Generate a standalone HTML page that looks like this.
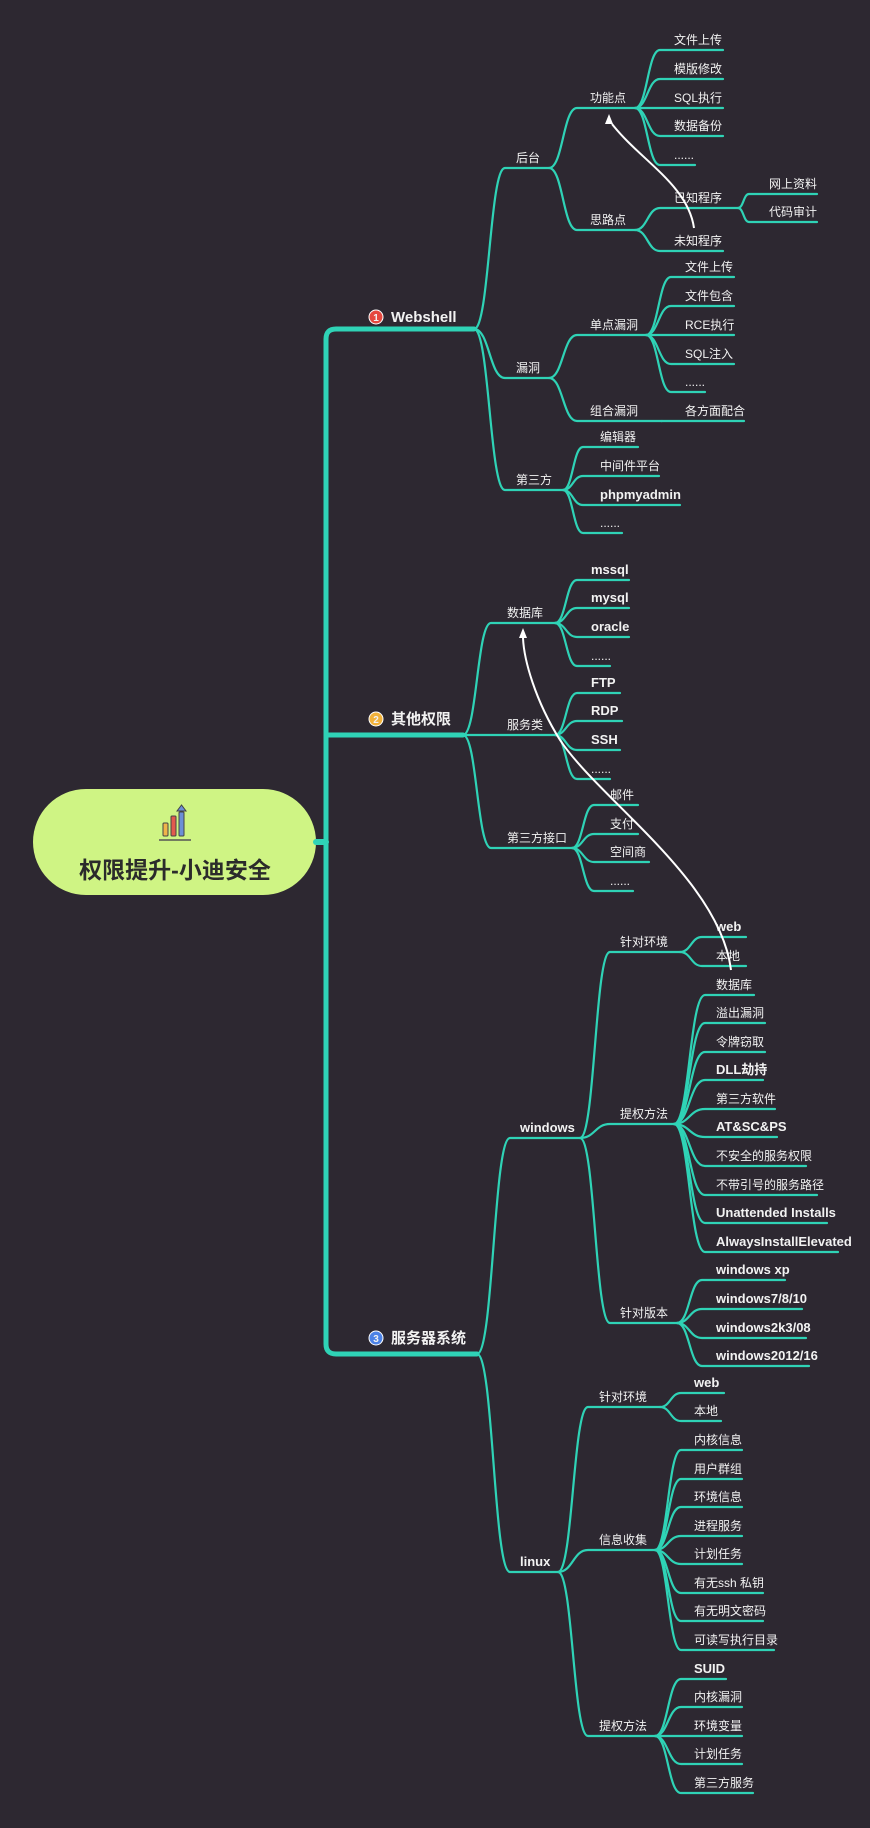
<!DOCTYPE html>
<html><head><meta charset="utf-8">
<style>
html,body{margin:0;padding:0;background:#2d2831;}
svg{display:block}
text{font-family:"Liberation Sans","Noto Sans CJK SC",sans-serif;fill:#f2f2f2;}
</style></head>
<body>
<svg id="map" width="870" height="1828" viewBox="0 0 870 1828" xmlns="http://www.w3.org/2000/svg">
<rect width="870" height="1828" fill="#2d2831"/>
<!-- root -->
<g>
<rect x="33" y="789" width="283" height="106" rx="53" fill="#cff484"/>
<g>
<rect x="163" y="823" width="5" height="13" rx="1" fill="#f0b34a" stroke="#444" stroke-width="1"/>
<rect x="171" y="816" width="5" height="20" rx="1" fill="#e25a4e" stroke="#444" stroke-width="1"/>
<rect x="179" y="812" width="5" height="24" rx="1" fill="#6c8fd6" stroke="#444" stroke-width="1"/>
<path d="M181.5 805 L177 811 L186 811 Z" fill="#6c8fd6" stroke="#444" stroke-width="1"/>
<line x1="159" y1="840" x2="191" y2="840" stroke="#555" stroke-width="1.5"/>
</g>
<text x="175" y="878" text-anchor="middle" font-size="23" font-weight="bold" style="fill:#2b2b2b">权限提升-小迪安全</text>
</g>
<g id="lines" fill="none" stroke="#2fd3b6"></g>
<g id="labels"></g>
</svg>
<script>
const NS="http://www.w3.org/2000/svg";
// tree: [label, x1, x2, y, labelX, bold, children]
const tree=[
 ["后台",505,549,168,516,0,[
   ["功能点",577,635,108,590,0,[
     ["文件上传",660,723,50,674,0],["模版修改",660,723,79,674,0],["SQL执行",660,723,108,674,0],["数据备份",660,723,136,674,0],["......",660,695,165,674,0]]],
   ["思路点",577,635,230,590,0,[
     ["已知程序",660,738,208,674,0,[["网上资料",749,817,194,769,0],["代码审计",749,817,222,769,0]]],
     ["未知程序",660,723,251,674,0]]]]],
 ["漏洞",505,549,378,516,0,[
   ["单点漏洞",577,646,335,590,0,[
     ["文件上传",671,734,277,685,0],["文件包含",671,734,306,685,0],["RCE执行",671,734,335,685,0],["SQL注入",671,734,364,685,0],["......",671,705,392,685,0]]],
   ["组合漏洞",577,662,421,590,0,[["各方面配合",662,744,421,685,0]]]]],
 ["第三方",505,563,490,516,0,[
   ["编辑器",583,638,447,600,0],["中间件平台",583,659,476,600,0],["phpmyadmin",583,680,505,600,1],["......",583,622,533,600,0]]]
];
const tree2=[
 ["数据库",491,555,623,507,0,[["mssql",577,629,580,591,1],["mysql",577,629,608,591,1],["oracle",577,629,637,591,1],["......",577,610,666,591,0]]],
 ["服务类",491,555,735,507,0,[["FTP",577,620,693,591,1],["RDP",577,622,721,591,1],["SSH",577,620,750,591,1],["......",577,610,779,591,0]]],
 ["第三方接口",491,572,848,507,0,[["邮件",594,638,805,610,0],["支付",594,638,834,610,0],["空间商",594,649,862,610,0],["......",594,633,891,610,0]]]
];
const tree3=[
 ["windows",510,580,1138,520,1,[
   ["针对环境",610,680,952,620,0,[["web",702,746,937,716,1],["本地",702,746,966,716,0]]],
   ["提权方法",610,674,1124,620,0,[
     ["数据库",705,754,995,716,0],["溢出漏洞",705,765,1023,716,0],["令牌窃取",705,765,1052,716,0],["DLL劫持",705,763,1080,716,1],["第三方软件",705,775,1109,716,0],["AT&SC&PS",705,777,1137,716,1],["不安全的服务权限",705,806,1166,716,0],["不带引号的服务路径",705,817,1195,716,0],["Unattended Installs",705,827,1223,716,1],["AlwaysInstallElevated",705,838,1252,716,1]]],
   ["针对版本",610,677,1323,620,0,[["windows xp",702,785,1280,716,1],["windows7/8/10",702,802,1309,716,1],["windows2k3/08",702,806,1338,716,1],["windows2012/16",702,809,1366,716,1]]]]],
 ["linux",510,558,1572,520,1,[
   ["针对环境",588,660,1407,599,0,[["web",681,724,1393,694,1],["本地",681,721,1421,694,0]]],
   ["信息收集",588,655,1550,599,0,[["内核信息",681,742,1450,694,0],["用户群组",681,742,1479,694,0],["环境信息",681,742,1507,694,0],["进程服务",681,742,1536,694,0],["计划任务",681,742,1564,694,0],["有无ssh 私钥",681,763,1593,694,0],["有无明文密码",681,763,1621,694,0],["可读写执行目录",681,774,1650,694,0]]],
   ["提权方法",588,655,1736,599,0,[["SUID",681,726,1679,694,1],["内核漏洞",681,742,1707,694,0],["环境变量",681,742,1736,694,0],["计划任务",681,742,1764,694,0],["第三方服务",681,753,1793,694,0]]]]]
];
const G=document.getElementById('lines'),L=document.getElementById('labels');
function path(d,w){const p=document.createElementNS(NS,'path');p.setAttribute('d',d);p.setAttribute('stroke-width',w);p.setAttribute('stroke-linecap','round');


G.appendChild(p);return p;}
function draw(nodes,px,py){
 nodes.forEach(n=>{
  const [t,x1,x2,y,lx,b,ch]=n;const m=(px+x1)/2;
  path(`M${px} ${py} C${m} ${py} ${m} ${y} ${x1} ${y} L${x2} ${y}`,2.2);
  const tx=document.createElementNS(NS,'text');tx.textContent=t;tx.setAttribute('x',lx);tx.setAttribute('y',y-6);
  tx.setAttribute('font-size',b?13:12);if(b)tx.setAttribute('font-weight','bold');
  
  
  L.appendChild(tx);
  if(ch)draw(ch,x2,y);
 });
}
// trunk
path("M474 329 L336 329 Q326 329 326 339 L326 1344 Q326 1354 336 1354 L477 1354",5);
path("M326 735 L463 735",5);
path("M316 842 L326 842",6);
draw(tree,474,329);draw(tree2,463,735);draw(tree3,477,1354);
// level-1 labels
[["1","Webshell",322,"#e5483f"],["2","其他权限",724,"#f2b23a"],["3","服务器系统",1343,"#4c82e6"]].forEach(a=>{
 const c=document.createElementNS(NS,'circle');c.setAttribute('cx',376);c.setAttribute('cy',a[2]-5);c.setAttribute('r',7);c.setAttribute('fill',a[3]);c.setAttribute('stroke','#fff');c.setAttribute('stroke-width','1');
 
 
 L.appendChild(c);
 const n=document.createElementNS(NS,'text');n.textContent=a[0];n.setAttribute('x',376);n.setAttribute('y',a[2]-1);n.setAttribute('text-anchor','middle');n.setAttribute('font-size','10');n.setAttribute('font-weight','bold');
 
 
 L.appendChild(n);
 const t=document.createElementNS(NS,'text');t.textContent=a[1];t.setAttribute('x',391);t.setAttribute('y',a[2]);t.setAttribute('font-size','15');t.setAttribute('font-weight','bold');
 
 
 L.appendChild(t);
});
// relationship arrows
function arrow(d,tx,ty){const p=document.createElementNS(NS,'path');p.setAttribute('d',d);p.setAttribute('fill','none');p.setAttribute('stroke','#ffffff');p.setAttribute('stroke-width','2');
 
 
 L.appendChild(p);
 const h=document.createElementNS(NS,'path');h.setAttribute('d',`M${tx} ${ty} L${tx-4} ${ty+10} L${tx+4} ${ty+10} Z`);h.setAttribute('fill','#fff');
 
 
 L.appendChild(h);}
arrow("M694 228 C688 185 640 160 612 124",609,114);
arrow("M731 970 C720 880 600 800 560 740 C535 700 524 660 523 638",523,628);
</script>
</body></html>
